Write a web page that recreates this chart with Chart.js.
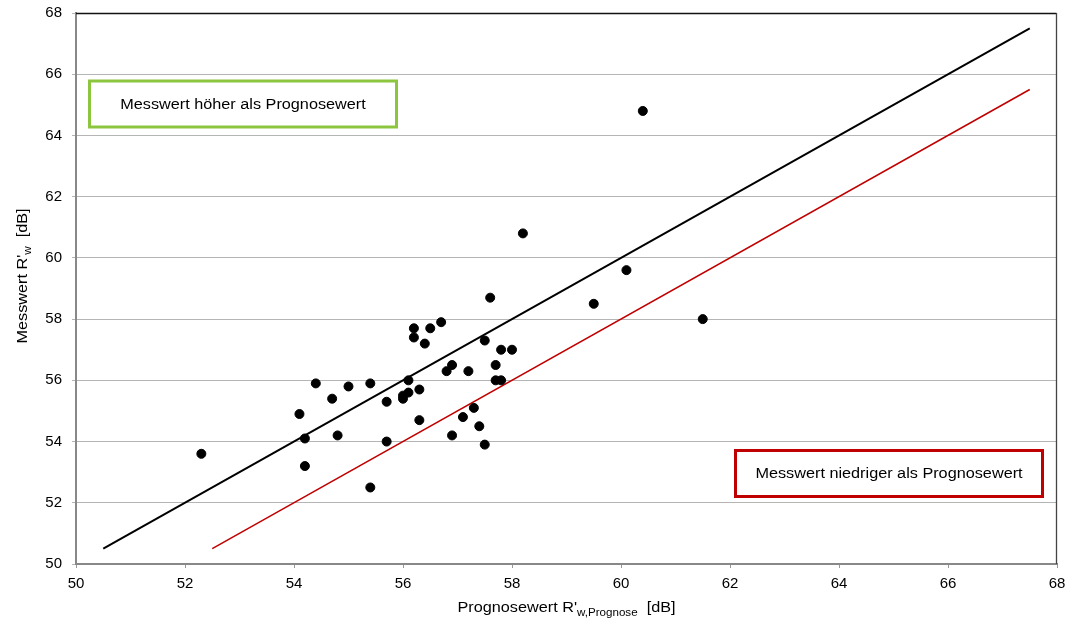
<!DOCTYPE html>
<html>
<head>
<meta charset="utf-8">
<script src="https://cdn.jsdelivr.net/npm/chart.js@4.4.1/dist/chart.umd.min.js"></script>
<style>
  html, body { margin: 0; padding: 0; background: #fff; }
  #wrap { position: relative; width: 1067px; height: 618px; }
</style>
</head>
<body>
<div id="wrap"><canvas id="chart" width="1067" height="618"></canvas></div>
<script>
// Prognose (x) vs. Messwert (y), dB
const prognose = [
  52.3, 54.1, 54.2, 54.2, 54.4, 54.7, 54.8, 55.0, 55.4, 55.4,
  55.7, 55.7, 56.0, 56.0, 56.1, 56.1, 56.2, 56.2, 56.3, 56.3,
  56.4, 56.5, 56.7, 56.8, 56.9, 56.9, 57.1, 57.2, 57.3, 57.4,
  57.5, 57.5, 57.6, 57.7, 57.7, 57.8, 57.8, 58.0, 58.2, 59.5,
  60.1, 60.4, 61.5,
];
const messwert = [
  53.6, 54.9, 54.1, 53.2, 55.9, 55.4, 54.2, 55.8, 55.9, 52.5,
  55.3, 54.0, 55.5, 55.4, 56.0, 55.6, 57.7, 57.4, 55.7, 54.7,
  57.2, 57.7, 57.9, 56.3, 56.5, 54.2, 54.8, 56.3, 55.1, 54.5,
  57.3, 53.9, 58.7, 56.5, 56.0, 57.0, 56.0, 57.0, 60.8, 58.5,
  59.6, 64.8, 58.0,
];
// reference lines: y = x and y = x - 2
const lineEqualX = [50.5, 67.5];
const lineEqualY = [50.5, 67.5];
const lineMinus2X = [52.5, 67.5];
const lineMinus2Y = [50.5, 65.5];

const xTicks = [50, 52, 54, 56, 58, 60, 62, 64, 66, 68];
const yTicks = [50, 52, 54, 56, 58, 60, 62, 64, 66, 68];

const FONT = '"Liberation Sans", Arial, Helvetica, sans-serif';
const STRETCH = 1.16; // original text is a bit wide

const zip = (xs, ys) => xs.map((x, i) => ({ x, y: ys[i] }));

const overlay = {
  id: 'overlay',
  afterDraw(chart) {
    const { ctx, chartArea: a } = chart;
    ctx.save();
    // frame top / right
    ctx.strokeStyle = '#111';
    ctx.lineWidth = 1.3;
    ctx.beginPath();
    ctx.moveTo(a.left, a.top + 0.5);
    ctx.lineTo(a.right - 0.5, a.top + 0.5);
    ctx.stroke();
    ctx.strokeStyle = '#444';
    ctx.beginPath();
    ctx.moveTo(a.right - 0.5, a.top);
    ctx.lineTo(a.right - 0.5, a.bottom);
    ctx.stroke();

    // boxes
    box(ctx, a.left + 13.5, a.top + 68, 307, 46, '#8cc63e', 'Messwert höher als Prognosewert');
    box(ctx, a.left + 659.5, a.top + 437.5, 307, 46, '#c00000', 'Messwert niedriger als Prognosewert');

    // x title with subscript
    ctx.fillStyle = '#000';
    drawParts(ctx, [
      ['Prognosewert R\'', 14, 0],
      ['w,Prognose', 10, 4],
      ['  [dB]', 14, 0],
    ], (a.left + a.right) / 2, 612);

    // y title rotated
    ctx.translate(27, 276);
    ctx.rotate(-Math.PI / 2);
    drawParts(ctx, [
      ['Messwert R\'', 14, 0],
      ['w', 10, 4],
      ['  [dB]', 14, 0],
    ], 0, 0);
    ctx.restore();
  }
};

function box(ctx, x, y, w, h, color, text) {
  ctx.fillStyle = '#fff';
  ctx.fillRect(x, y, w, h);
  ctx.strokeStyle = color;
  ctx.lineWidth = 3;
  ctx.strokeRect(x, y, w, h);
  ctx.fillStyle = '#000';
  ctx.font = '14px ' + FONT;
  ctx.textAlign = 'center';
  ctx.textBaseline = 'middle';
  ctx.save();
  ctx.translate(x + w / 2, y + h / 2 + 1);
  ctx.scale(STRETCH, 1);
  ctx.fillText(text, 0, 0);
  ctx.restore();
}

function drawParts(ctx, parts, cx, baseline) {
  ctx.save();
  ctx.textAlign = 'left';
  ctx.textBaseline = 'alphabetic';
  let total = 0;
  parts.forEach(([t, s]) => { ctx.font = s + 'px ' + FONT; total += ctx.measureText(t).width; });
  ctx.translate(cx, baseline);
  ctx.scale(STRETCH, 1);
  let x = -total / 2;
  parts.forEach(([t, s, dy]) => {
    ctx.font = s + 'px ' + FONT;
    ctx.fillText(t, x, dy);
    x += ctx.measureText(t).width;
  });
  ctx.restore();
}

new Chart(document.getElementById('chart'), {
  type: 'scatter',
  data: {
    datasets: [
      {
        label: 'Messwerte',
        data: zip(prognose, messwert),
        backgroundColor: '#000', borderColor: '#000',
        pointRadius: 4.5, pointHoverRadius: 4.5,
        showLine: false,
      },
      {
        label: 'y = x',
        data: zip(lineEqualX, lineEqualY),
        showLine: true, borderColor: '#000', borderWidth: 2,
        pointRadius: 0,
      },
      {
        label: 'y = x - 2',
        data: zip(lineMinus2X, lineMinus2Y),
        showLine: true, borderColor: '#c00000', borderWidth: 1.5,
        pointRadius: 0,
      },
    ],
  },
  options: {
    responsive: false,
    animation: false,
    layout: { padding: { top: 13, right: 10, left: 0, bottom: 0 } },
    plugins: { legend: { display: false }, tooltip: { enabled: false } },
    scales: {
      x: {
        type: 'linear', min: 50, max: 68,
        afterBuildTicks: s => { s.ticks = xTicks.map(v => ({ value: v })); },
        afterFit: s => { s.height = 54; s.paddingLeft = 0; s.paddingRight = 0; },
        grid: { drawOnChartArea: false, drawTicks: true, tickLength: 4, color: '#999' },
        border: { color: '#888', width: 2 },
        ticks: { color: '#000', font: { family: FONT, size: 15 }, padding: 7, maxRotation: 0 },
      },
      y: {
        type: 'linear', min: 50, max: 68,
        afterBuildTicks: s => { s.ticks = yTicks.map(v => ({ value: v })); },
        afterFit: s => { s.width = 76; s.paddingTop = 0; s.paddingBottom = 0; },
        grid: { color: '#b5b5b5', lineWidth: 1, drawTicks: true, tickLength: 4 },
        border: { color: '#888', width: 2 },
        ticks: { color: '#000', font: { family: FONT, size: 15 }, padding: 10 },
      },
    },
  },
  plugins: [overlay],
});
</script>
</body>
</html>
